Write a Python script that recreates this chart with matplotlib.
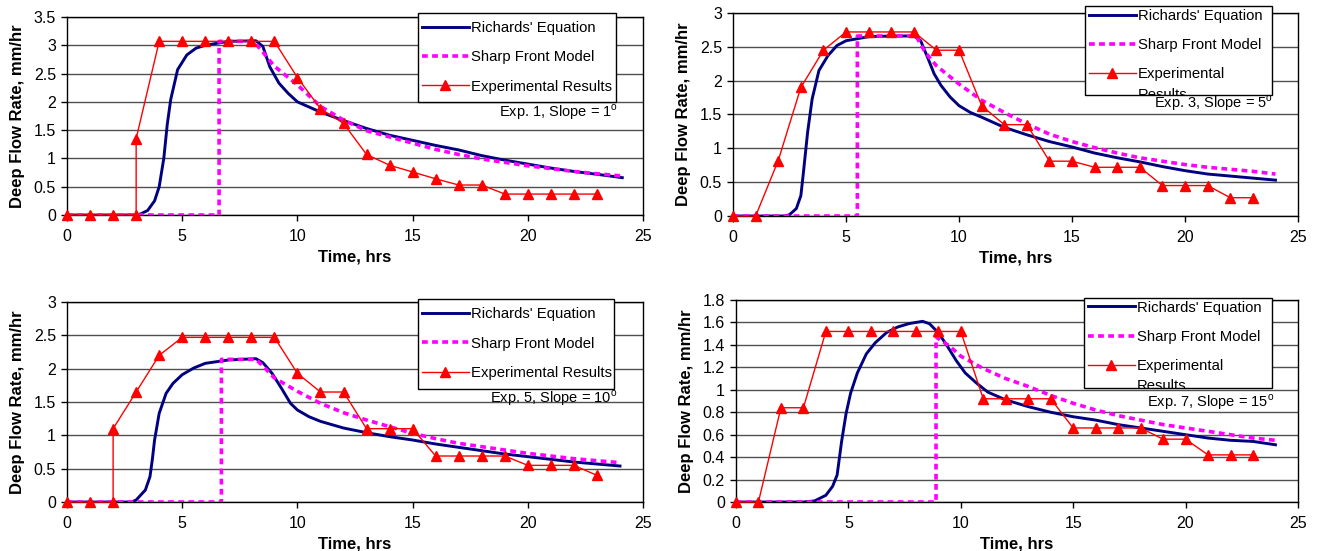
import matplotlib.pyplot as plt
from matplotlib.patches import Rectangle
from matplotlib.transforms import Bbox, TransformedBbox

plt.rcParams['font.family'] = ['Liberation Sans', 'DejaVu Sans']
plt.rcParams['mathtext.fontset'] = 'custom'
plt.rcParams['mathtext.rm'] = 'Liberation Sans'

# ---- Exp. 1, slope 1 deg ----
exp1_t = [0, 1, 2, 3, 3, 4, 5, 6, 7, 8, 9, 10, 11, 12, 13, 14, 15, 16, 17, 18, 19, 20, 21, 22, 23]
exp1_q = [0, 0, 0, 0, 1.35, 3.07, 3.07, 3.07, 3.07, 3.07, 3.07, 2.43, 1.88, 1.62, 1.07, 0.88, 0.76,
          0.64, 0.53, 0.53, 0.37, 0.37, 0.37, 0.37, 0.37]
rich1_t = [0, 3.0, 3.2, 3.5, 3.8, 4.0, 4.2, 4.35, 4.5, 4.8, 5.2, 5.6, 6.0, 7.0, 8.2, 8.5, 8.8, 9.2,
           9.6, 10, 11, 12, 13, 14, 15, 16, 17, 18, 19, 20, 21, 22, 23, 24.1]
rich1_q = [0, 0, 0.02, 0.08, 0.25, 0.5, 1.0, 1.6, 2.04, 2.57, 2.83, 2.95, 3.0, 3.07, 3.08, 2.98,
           2.62, 2.33, 2.15, 2.0, 1.82, 1.67, 1.53, 1.41, 1.32, 1.23, 1.15, 1.05, 0.97, 0.9, 0.83,
           0.77, 0.72, 0.66]
sharp1_t = [0, 6.6, 6.6, 8.1, 8.5, 9, 10, 11, 12, 13, 14, 15, 16, 17, 18, 19, 20, 21, 22, 23, 24.1]
sharp1_q = [0, 0, 3.07, 3.07, 2.88, 2.63, 2.3, 1.92, 1.68, 1.49, 1.38, 1.27, 1.16, 1.07, 0.99, 0.93,
            0.87, 0.82, 0.77, 0.73, 0.69]

# ---- Exp. 3, slope 5 deg ----
exp3_t = [0, 1, 2, 3, 4, 5, 6, 7, 8, 9, 10, 11, 12, 13, 14, 15, 16, 17, 18, 19, 20, 21, 22, 23]
exp3_q = [0, 0, 0.82, 1.9, 2.45, 2.72, 2.72, 2.72, 2.72, 2.45, 2.45, 1.63, 1.35, 1.35, 0.81, 0.81,
          0.72, 0.72, 0.72, 0.45, 0.45, 0.45, 0.27, 0.27]
rich3_t = [0, 2.3, 2.5, 2.8, 3.0, 3.1, 3.3, 3.5, 3.8, 4.2, 4.6, 5.0, 6.0, 7.0, 8.0, 8.3, 8.6, 8.9,
           9.2, 9.6, 10, 10.5, 11, 12, 13, 14, 15, 16, 17, 18, 19, 20, 21, 22, 23, 24]
rich3_q = [0, 0, 0.02, 0.11, 0.3, 0.6, 1.24, 1.73, 2.15, 2.37, 2.52, 2.59, 2.65, 2.66, 2.66, 2.59,
           2.35, 2.1, 1.93, 1.76, 1.63, 1.53, 1.46, 1.31, 1.2, 1.1, 1.02, 0.93, 0.86, 0.8, 0.73,
           0.67, 0.62, 0.59, 0.56, 0.53]
sharp3_t = [0, 5.5, 5.5, 8.1, 8.5, 9, 10, 11, 12, 13, 14, 15, 16, 17, 18, 19, 20, 21, 22, 23, 24]
sharp3_q = [0, 0, 2.66, 2.66, 2.42, 2.22, 1.95, 1.71, 1.53, 1.36, 1.21, 1.1, 1.01, 0.93, 0.86,
            0.81, 0.76, 0.72, 0.69, 0.66, 0.62]

# ---- Exp. 5, slope 10 deg ----
exp5_t = [0, 1, 2, 2, 3, 4, 5, 6, 7, 8, 9, 10, 11, 12, 13, 14, 15, 16, 17, 18, 19, 20, 21, 22, 23]
exp5_q = [0, 0, 0, 1.1, 1.65, 2.2, 2.47, 2.47, 2.47, 2.47, 2.47, 1.93, 1.65, 1.65, 1.1, 1.1, 1.1,
          0.69, 0.69, 0.69, 0.69, 0.55, 0.55, 0.55, 0.4]
rich5_t = [0, 2.8, 3.0, 3.4, 3.6, 3.7, 3.8, 4.0, 4.3, 4.6, 5.0, 5.5, 6.0, 7.0, 8.2, 8.5, 8.9, 9.3,
           9.7, 10, 10.5, 11, 12, 13, 14, 15, 16, 17, 18, 19, 20, 21, 22, 23, 24]
rich5_q = [0, 0, 0.03, 0.18, 0.38, 0.63, 0.93, 1.33, 1.63, 1.78, 1.91, 2.01, 2.08, 2.13, 2.15,
           2.09, 1.93, 1.71, 1.48, 1.38, 1.28, 1.21, 1.11, 1.04, 0.98, 0.93, 0.87, 0.82, 0.77,
           0.72, 0.68, 0.64, 0.6, 0.57, 0.54]
sharp5_t = [0, 6.7, 6.7, 8.2, 8.5, 9, 10, 11, 12, 13, 14, 15, 16, 17, 18, 19, 20, 21, 22, 23, 24]
sharp5_q = [0, 0, 2.14, 2.14, 2.04, 1.86, 1.66, 1.48, 1.34, 1.23, 1.13, 1.03, 0.95, 0.88, 0.83,
            0.78, 0.73, 0.69, 0.65, 0.62, 0.59]

# ---- Exp. 7, slope 15 deg ----
exp7_t = [0, 1, 2, 3, 4, 5, 6, 7, 8, 9, 10, 11, 12, 13, 14, 15, 16, 17, 18, 19, 20, 21, 22, 23]
exp7_q = [0, 0, 0.84, 0.84, 1.52, 1.52, 1.52, 1.52, 1.52, 1.52, 1.52, 0.92, 0.92, 0.92, 0.92,
          0.66, 0.66, 0.66, 0.66, 0.56, 0.56, 0.42, 0.42, 0.42]
rich7_t = [0, 3.0, 3.5, 4.0, 4.3, 4.5, 4.7, 4.9, 5.1, 5.4, 5.8, 6.2, 6.7, 7.2, 7.7, 8.3, 8.6, 9.0,
           9.4, 9.8, 10.2, 10.7, 11.2, 12, 13, 14, 15, 16, 17, 18, 19, 20, 21, 22, 23, 24]
rich7_q = [0, 0, 0.01, 0.06, 0.14, 0.24, 0.54, 0.79, 0.97, 1.15, 1.32, 1.42, 1.51, 1.56, 1.59,
           1.61, 1.59, 1.51, 1.39, 1.26, 1.15, 1.06, 0.98, 0.91, 0.85, 0.8, 0.76, 0.73, 0.69,
           0.66, 0.63, 0.6, 0.57, 0.55, 0.54, 0.51]
sharp7_t = [0, 8.9, 8.9, 9.5, 10, 11, 12, 13, 14, 15, 16, 17, 18, 19, 20, 21, 22, 23, 24]
sharp7_q = [0, 0, 1.47, 1.39, 1.3, 1.19, 1.1, 1.03, 0.95, 0.88, 0.82, 0.77, 0.73, 0.69, 0.66,
            0.63, 0.6, 0.57, 0.55]

# axes rect, data, y max, y step, wrapped label?, note, legend box (x0, y0, x1, y1), legend anchor, note pos
panels = [
    ([0.0507, 0.6098, 0.4357, 0.3593], exp1_t, exp1_q, rich1_t, rich1_q, sharp1_t, sharp1_q,
     3.5, 0.5, False, "Exp. 1, Slope = 1", (0.609, 0.572, 0.953, 1.022), (0.616, 0.980), (0.957, 0.52)),
    ([0.5545, 0.6080, 0.4274, 0.3684], exp3_t, exp3_q, rich3_t, rich3_q, sharp3_t, sharp3_q,
     3.0, 0.5, True, "Exp. 3, Slope = 5", (0.623, 0.596, 0.954, 1.034), (0.630, 1.021), (0.956, 0.557)),
    ([0.0507, 0.0889, 0.4357, 0.3630], exp5_t, exp5_q, rich5_t, rich5_q, sharp5_t, sharp5_q,
     3.0, 0.5, False, "Exp. 5, Slope = 10", (0.609, 0.565, 0.950, 1.015), (0.616, 0.974), (0.956, 0.52)),
    ([0.5567, 0.0889, 0.4251, 0.3666], exp7_t, exp7_q, rich7_t, rich7_q, sharp7_t, sharp7_q,
     1.8, 0.2, True, "Exp. 7, Slope = 15", (0.619, 0.564, 0.954, 1.010), (0.626, 0.997), (0.958, 0.495)),
]

fig = plt.figure(figsize=(13.22, 5.51), dpi=100)

for rect, et, eq, rt, rq, st, sq, ymax, ystep, wrap, note, box, anchor, notepos in panels:
    ax = fig.add_axes(rect)
    ax.set_xlim(0, 25)
    ax.set_ylim(0, ymax)
    ax.set_xticks(range(0, 26, 5))
    n = int(round(ymax / ystep))
    yt = [round(i * ystep, 2) for i in range(n + 1)]
    ax.set_yticks(yt)
    ax.set_yticklabels([('%g' % v) for v in yt])
    ax.grid(axis='y', color='#505050', linewidth=1.0)
    ax.set_axisbelow(True)
    for s in ax.spines.values():
        s.set_color('black')
        s.set_linewidth(1.0)
    ax.tick_params(labelsize=11.5, direction='out', length=4, width=1, pad=4)
    ax.tick_params(axis='x', pad=6)

    ax.plot(rt, rq, color='#000080', linewidth=2.1, label="Richards' Equation", zorder=3)
    ax.plot(st, sq, color='#FF00FF', linewidth=2.6, linestyle=(0, (1.6, 1.2)),
            label="Sharp Front Model", zorder=4)
    ax.plot(et, eq, color='#FF0000', linewidth=1.0, marker='^', markersize=7,
            label="Experimental" if wrap else "Experimental Results", zorder=5, clip_on=False)

    ax.set_xlabel("Time, hrs", fontsize=12, fontweight='bold', labelpad=4)
    ax.set_ylabel("Deep Flow Rate, mm/hr", fontsize=12, fontweight='bold', labelpad=6)

    # legend box drawn by hand so the wrapped label can be cut off like the original
    bx0, by0, bx1, by1 = box
    ax.add_patch(Rectangle((bx0, by0), bx1 - bx0, by1 - by0, transform=ax.transAxes,
                           facecolor='white', edgecolor='black', linewidth=1.0,
                           clip_on=False, zorder=9))
    leg = ax.legend(loc='upper left', bbox_to_anchor=anchor, fontsize=10.7, frameon=False,
                    handlelength=3.15, handletextpad=0.16, labelspacing=1.03,
                    borderpad=0, borderaxespad=0)
    leg.set_zorder(10)
    clip = TransformedBbox(Bbox([[bx0, by0], [bx1, by1]]), ax.transAxes)
    if wrap:
        extra = ax.annotate("Results", xy=(0, 0), xycoords=leg.get_texts()[2],
                            xytext=(0, -4.5), textcoords='offset points',
                            ha='left', va='top', fontsize=10.7, zorder=11)
        extra.set_clip_box(clip)
        extra.set_clip_on(True)

    ax.text(notepos[0], notepos[1], note + r"$^{\mathrm{o}}$", transform=ax.transAxes,
            ha='right', va='center', fontsize=10.5, zorder=11)

fig.savefig("out.png", dpi=100)
